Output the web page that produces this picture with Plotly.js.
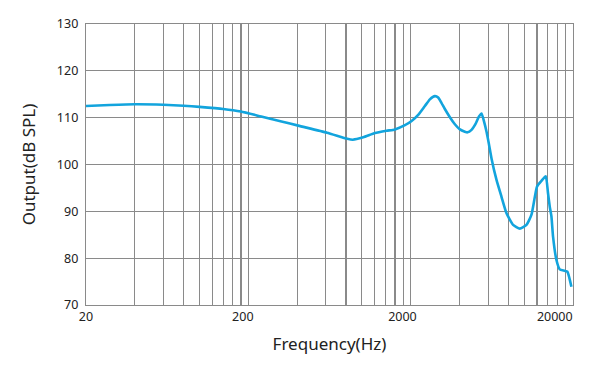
<!DOCTYPE html>
<html>
<head>
<meta charset="utf-8">
<script src="https://cdn.plot.ly/plotly-3.0.1.min.js"></script>
<style>html,body{margin:0;padding:0;background:#fff;}#chart{width:604px;height:369px;}</style>
</head>
<body>
<div id="chart"></div>
<script>
// Frequency response (Hz, dB SPL)
var freqHz = [20, 28, 40, 60, 80, 100, 140, 180, 240, 320, 406, 610, 814, 880, 1021, 1206, 1422, 1600, 1844, 2027, 2226, 2448, 2626, 2820, 2954, 3100, 3248, 3488, 3744, 4020, 4314, 4480, 4742, 5040, 5260, 5466, 5670, 5866, 6060, 6296, 6758, 7254, 7788, 8552, 9400, 10338, 11098, 12010, 12780, 13586, 14040, 14380, 14730, 15070, 15814, 16570, 17780, 18476, 19550];
var outputDb = [112.5, 112.7, 112.85, 112.75, 112.55, 112.3, 111.85, 111.3, 110.25, 109.2, 108.3, 106.8, 105.5, 105.3, 105.8, 106.7, 107.2, 107.5, 108.4, 109.3, 110.6, 112.5, 113.9, 114.6, 114.3, 113.1, 111.85, 110.1, 108.6, 107.5, 107.0, 106.87, 107.4, 108.8, 110.2, 110.9, 109.1, 107.0, 104.5, 101.3, 96.7, 93.1, 89.6, 87.1, 86.3, 87.1, 89.3, 95.3, 96.5, 97.5, 93.8, 91, 88.9, 84.6, 79.6, 77.6, 77.3, 77.1, 73.9];

// Axis labels as placed in the reference
var xTickVals = [20, 185, 1780, 15440];
var xTickText = ["20", "200", "2000", "20000"];
var yTickVals = [70, 80, 90, 100, 110, 120, 130];

// Log grid lines (2,4,6,...,20 x 10^k)
var gridVals = [40, 60, 80, 100, 120, 140, 160, 180, 200,
                400, 600, 800, 1000, 1200, 1400, 1600, 1800, 2000,
                4000, 6000, 8000, 10000, 12000, 14000, 16000, 18000];

var trace = {
  x: freqHz,
  y: outputDb,
  type: 'scatter',
  mode: 'lines',
  line: {color: '#12a4dd', width: 2.6, shape: 'spline', smoothing: 0.5},
  hoverinfo: 'x+y'
};

var gridColor = '#8a8a8a';
var layout = {
  width: 604,
  height: 369,
  margin: {l: 86, r: 31, t: 24, b: 64},
  paper_bgcolor: '#ffffff',
  plot_bgcolor: '#ffffff',
  showlegend: false,
  font: {family: '"Noto Sans", "Open Sans", sans-serif', color: '#222', size: 12.5},
  xaxis: {
    type: 'log',
    range: [Math.log10(20), Math.log10(20000)],
    tickmode: 'array',
    tickvals: xTickVals,
    ticktext: xTickText,
    ticks: '',
    showgrid: false,
    showline: true,
    mirror: true,
    linecolor: gridColor,
    linewidth: 1.2,
    zeroline: false,
    minor: {tickmode: 'array', tickvals: gridVals, showgrid: true, gridcolor: gridColor, gridwidth: 1.2, ticks: ''},
    tickfont: {size: 12.5, color: '#222'},
    title: {text: 'Frequency(Hz)', font: {size: 17, color: '#222'}, standoff: 13}
  },
  yaxis: {
    range: [70, 130],
    tickmode: 'array',
    tickvals: yTickVals,
    ticks: '',
    showgrid: true,
    gridcolor: gridColor,
    gridwidth: 1.2,
    showline: true,
    mirror: true,
    linecolor: gridColor,
    linewidth: 1.2,
    zeroline: false,
    tickfont: {size: 12.5, color: '#222'},
    ticklabelstandoff: 4,
    title: {text: 'Output(dB SPL)', font: {size: 17, color: '#222'}, standoff: 16}
  }
};

Plotly.newPlot('chart', [trace], layout, {displayModeBar: false, staticPlot: true});
</script>
</body>
</html>
